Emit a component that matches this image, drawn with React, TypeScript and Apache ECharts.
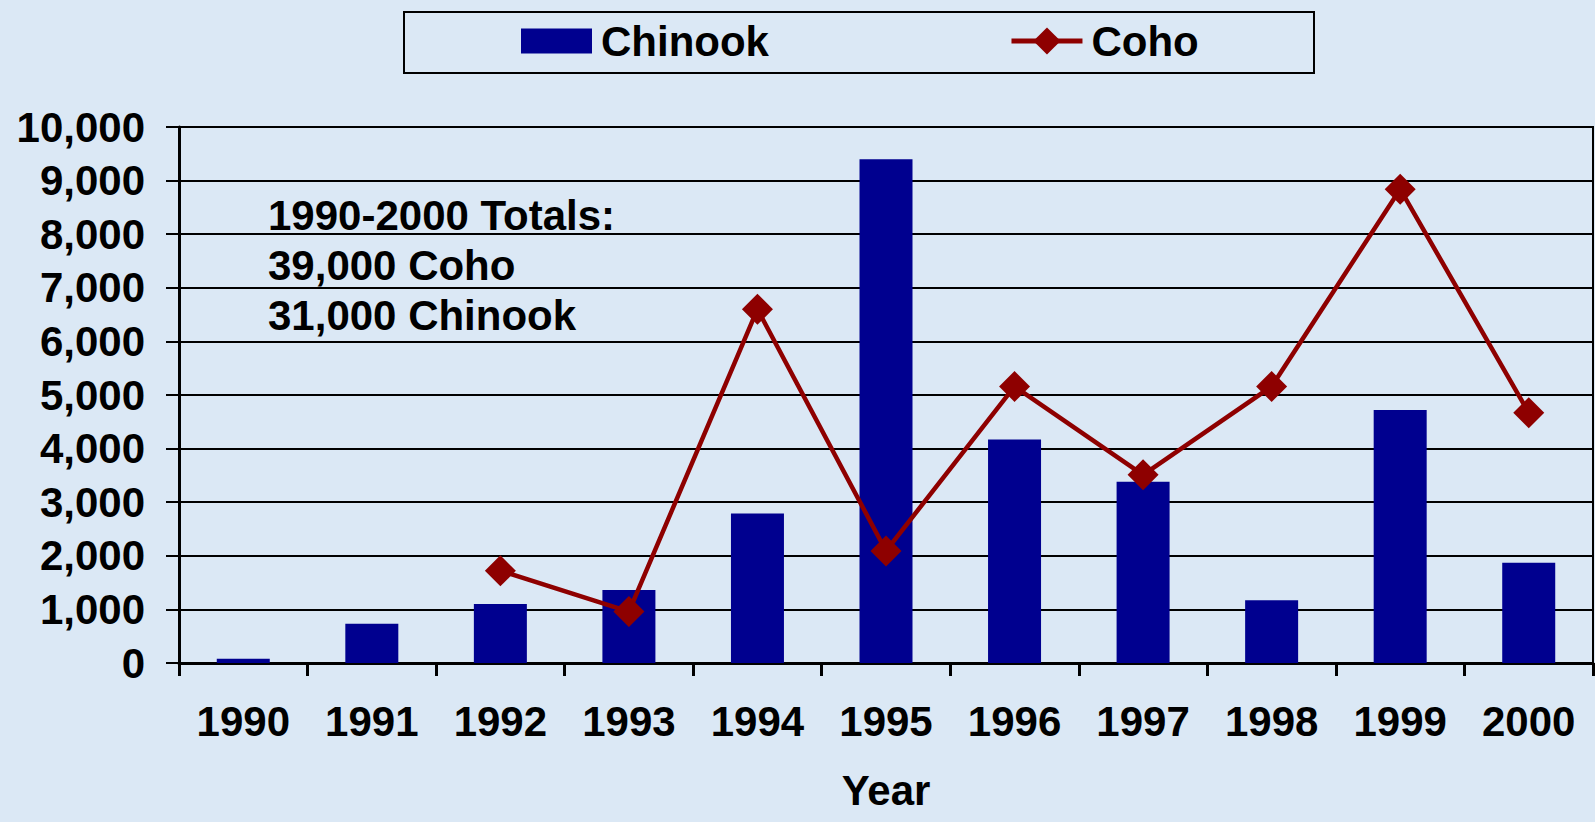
import React, { useEffect, useRef } from "react";
import * as echarts from "echarts";

const years = ["1990", "1991", "1992", "1993", "1994", "1995", "1996", "1997", "1998", "1999", "2000"];
const chinook = [80, 730, 1100, 1360, 2790, 9400, 4170, 3380, 1170, 4720, 1870];
const coho: (number | null)[] = [null, null, 1720, 960, 6600, 2090, 5160, 3510, 5160, 8840, 4670];
const yTicks = { min: 0, max: 10000, interval: 1000 };
const noteLines = ["1990-2000 Totals:", "39,000 Coho", "31,000 Chinook"];

const FONT = "'Liberation Sans', Arial, sans-serif";
const FS = 42;

export default function App() {
  const ref = useRef<HTMLDivElement>(null);
  useEffect(() => {
    if (!ref.current) return;
    const chart = echarts.init(ref.current, null, { renderer: "svg" });
    chart.setOption({
      animation: false,
      backgroundColor: "#dbe8f5",
      textStyle: { fontFamily: FONT },
      graphic: [
        {
          type: "rect",
          left: 403,
          top: 11,
          shape: { width: 910, height: 61 },
          style: { fill: "transparent", stroke: "#000", lineWidth: 2 },
          z: -1,
        },
        {
          type: "text",
          left: 268,
          top: 190,
          style: {
            text: noteLines.join("\n"),
            font: `bold ${FS}px ${FONT}`,
            lineHeight: 50,
            fill: "#000",
          },
        },
      ],
      legend: {
        left: 521,
        top: 19,
        padding: 0,
        itemGap: 240,
        itemWidth: 71,
        itemHeight: 34,
        symbolKeepAspect: true,
        textStyle: {
          fontSize: FS,
          fontWeight: "bold",
          color: "#000",
          fontFamily: FONT,
          lineHeight: 44,
          padding: [0, 0, 0, 4],
        },
        data: [
          { name: "Chinook", icon: "path://M0,0h68v24h-68z" },
          { name: "Coho", lineStyle: { width: 5, color: "#8e0000" }, itemStyle: { color: "#8e0000" } },
        ],
      },
      grid: {
        left: 179,
        right: 2,
        top: 127,
        bottom: 159,
        show: true,
        borderColor: "#000",
        borderWidth: 2,
        backgroundColor: "transparent",
      },
      xAxis: {
        type: "category",
        data: years,
        boundaryGap: true,
        name: "Year",
        nameLocation: "middle",
        nameGap: 106,
        nameTextStyle: { fontSize: FS, fontWeight: "bold", color: "#000", fontFamily: FONT },
        axisLine: { lineStyle: { color: "#000", width: 3 } },
        axisTick: { show: true, length: 13, lineStyle: { color: "#000", width: 3 } },
        axisLabel: { fontSize: FS, fontWeight: "bold", color: "#000", margin: 37, fontFamily: FONT },
        splitLine: { show: false },
      },
      yAxis: {
        type: "value",
        min: yTicks.min,
        max: yTicks.max,
        interval: yTicks.interval,
        axisLine: { show: true, lineStyle: { color: "#000", width: 3 } },
        axisTick: { show: true, length: 13, lineStyle: { color: "#000", width: 2 } },
        axisLabel: {
          fontSize: FS,
          fontWeight: "bold",
          color: "#000",
          margin: 34,
          fontFamily: FONT,
          formatter: (v: number) => v.toLocaleString("en-US"),
        },
        splitLine: { show: true, lineStyle: { color: "#000", width: 2 } },
      },
      series: [
        {
          name: "Chinook",
          type: "bar",
          data: chinook,
          barWidth: 53,
          itemStyle: { color: "#00008f" },
          z: 2,
        },
        {
          name: "Coho",
          type: "line",
          data: coho,
          connectNulls: false,
          symbol: "diamond",
          symbolSize: 31,
          lineStyle: { color: "#8e0000", width: 4.5 },
          itemStyle: { color: "#8e0000" },
          z: 3,
        },
      ],
    });
    return () => chart.dispose();
  }, []);
  return (
    <div
      ref={ref}
      style={{ position: "fixed", left: 0, top: 0, width: 1595, height: 822 }}
    />
  );
}
